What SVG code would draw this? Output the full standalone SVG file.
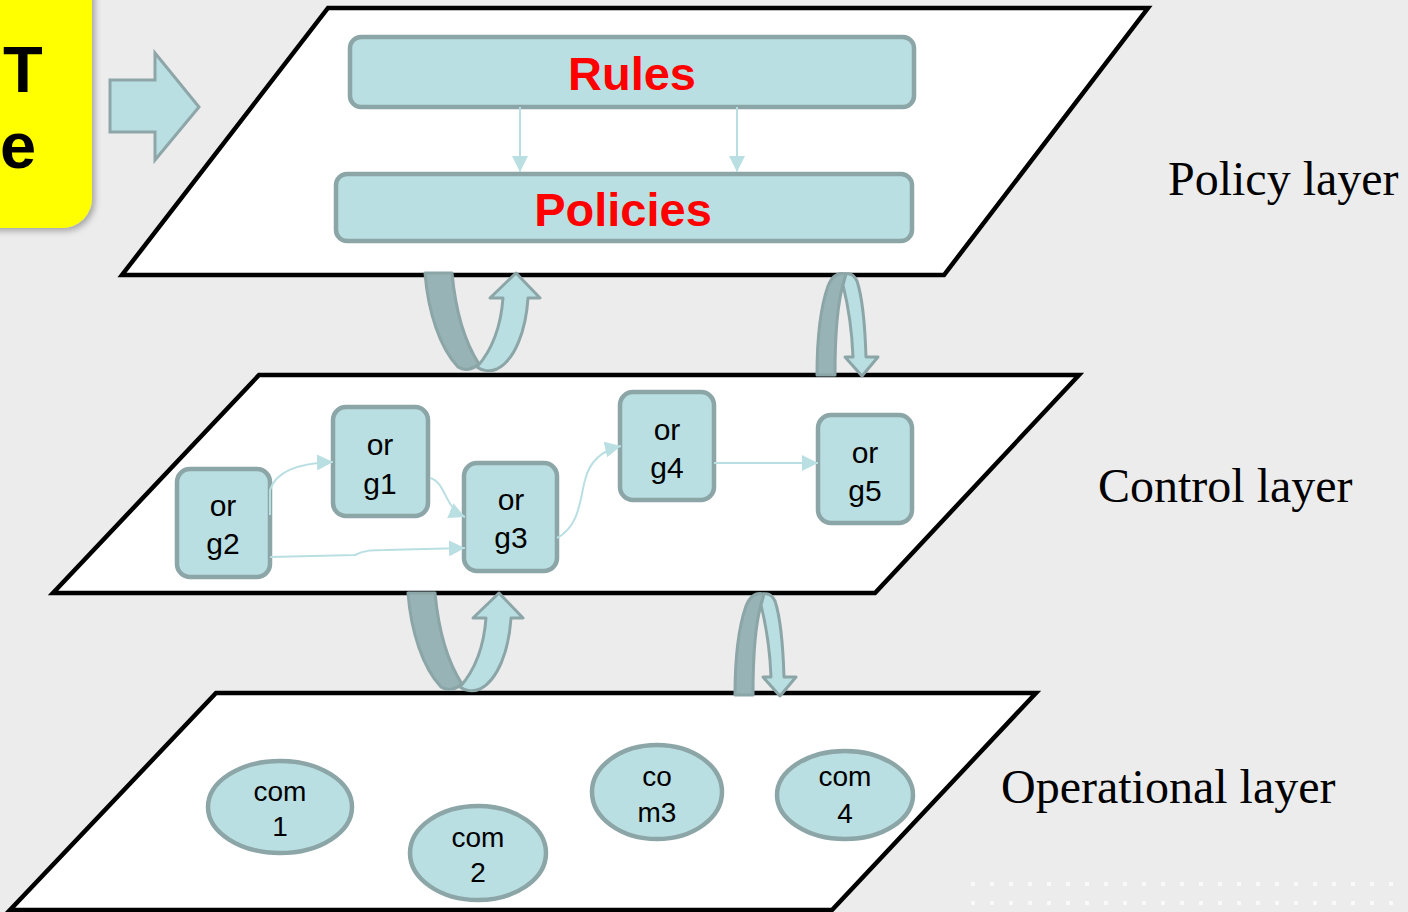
<svg xmlns="http://www.w3.org/2000/svg" width="1408" height="912" viewBox="0 0 1408 912">
<defs>
<style>
.plane{fill:#ffffff;stroke:#000000;stroke-width:4.5;stroke-linejoin:miter}
.box{fill:#b9dfe2;stroke:#8ca5a7;stroke-width:4.5}
.big{font-family:"Liberation Sans",Arial,sans-serif;font-weight:bold;font-size:47px;fill:#ff0000;text-anchor:middle}
.lbl{font-family:"Liberation Sans",Arial,sans-serif;font-size:30px;fill:#000000;text-anchor:middle}
.com{font-family:"Liberation Sans",Arial,sans-serif;font-size:28px;fill:#000000;text-anchor:middle}
.layer{font-family:"Liberation Serif","Times New Roman",serif;font-size:48px;fill:#000000}
.conn{fill:none;stroke:#b9dfe2;stroke-width:2}
.dark{fill:#97b3b5;stroke:#8ca5a7;stroke-width:3;stroke-linejoin:round}
.light{fill:#b9dfe2;stroke:#8ca5a7;stroke-width:3;stroke-linejoin:round}
</style>
<marker id="ah" markerUnits="userSpaceOnUse" markerWidth="16" markerHeight="16" refX="16" refY="8" orient="auto">
<path d="M0,0 L16,8 L0,16 Z" fill="#b9dfe2"/>
</marker>
<pattern id="dots" x="971" y="882" width="19" height="19" patternUnits="userSpaceOnUse">
<rect x="0" y="0" width="4" height="4" fill="#f9f9f9"/>
</pattern>
<filter id="sh" x="-20%" y="-20%" width="150%" height="150%">
<feDropShadow dx="3" dy="3" stdDeviation="3" flood-color="#000" flood-opacity="0.3"/>
</filter>
<g id="uarrow">
<path class="dark" d="M425,273 L452,273 C455,305 462,338 479,364 C472,370 464,371 458,367 C440,348 428,312 425,273 Z"/>
<path class="light" d="M477,367 C492,350 501,325 503,298 L490,298 L516,273 L540,298 L528,298 C526,330 515,360 497,369 C490,372 482,371 477,367 Z"/>
</g>
<g id="narrow">
<path class="dark" d="M817,375 L835,375 C835,330 838,302 843,285 L846,274 C838,272 832,276 828,286 C821,306 817,340 817,375 Z"/>
<path class="light" d="M843,285 C848,305 852,330 853,357 L845,357 L862,376 L878,357 L866,357 C865,325 862,296 857,281 C854,275 850,273 846,274 Z"/>
</g>
</defs>
<rect x="0" y="0" width="1408" height="912" fill="#ececec"/>
<rect x="971" y="882" width="430" height="26" fill="url(#dots)"/>

<g id="title-box">
<rect x="-40" y="-40" width="132" height="268" rx="30" ry="30" fill="#ffff00" filter="url(#sh)"/>
<text x="3" y="92" font-family="'Liberation Sans',Arial,sans-serif" font-weight="bold" font-size="65" fill="#000">T</text>
<text x="0" y="168" font-family="'Liberation Sans',Arial,sans-serif" font-weight="bold" font-size="65" fill="#000">e</text>
</g>
<g id="block-arrow">
<path d="M110,80 L155,80 L155,53 L199,107 L155,160 L155,132 L110,132 Z" fill="#b9dfe2" stroke="#8ea6a8" stroke-width="3"/>
</g>

<g id="policy-layer">
<polygon class="plane" points="328,8 1148,8 944,275 122,275"/>
<text class="layer" x="1168" y="195">Policy layer</text>
</g>
<g id="control-layer">
<polygon class="plane" points="259,375 1079,375 875,593 53,593"/>
<text class="layer" x="1098" y="502">Control layer</text>
</g>
<g id="operational-layer">
<polygon class="plane" points="216,693 1036,693 832,910 10,910"/>
<text class="layer" x="1001" y="803">Operational layer</text>
</g>

<g id="rules">
<rect class="box" x="350" y="37" width="564" height="70" rx="11"/>
<text class="big" x="632" y="90">Rules</text>
</g>
<g id="policies">
<rect class="box" x="336" y="174" width="576" height="67" rx="11"/>
<text class="big" x="623" y="226">Policies</text>
</g>

<g id="org1">
<rect class="box" x="333" y="407" width="95" height="109" rx="13"/>
<text class="lbl" x="380" y="455">or</text><text class="lbl" x="380" y="494">g1</text>
</g>
<g id="org2">
<rect class="box" x="177" y="469" width="93" height="108" rx="13"/>
<text class="lbl" x="223" y="516">or</text><text class="lbl" x="223" y="554">g2</text>
</g>
<g id="org3">
<rect class="box" x="464" y="463" width="93" height="108" rx="13"/>
<text class="lbl" x="511" y="510">or</text><text class="lbl" x="511" y="548">g3</text>
</g>
<g id="org4">
<rect class="box" x="620" y="392" width="94" height="108" rx="13"/>
<text class="lbl" x="667" y="440">or</text><text class="lbl" x="667" y="478">g4</text>
</g>
<g id="org5">
<rect class="box" x="818" y="415" width="94" height="108" rx="13"/>
<text class="lbl" x="865" y="463">or</text><text class="lbl" x="865" y="501">g5</text>
</g>

<g id="com1">
<ellipse class="box" cx="280" cy="807" rx="72" ry="46"/>
<text class="com" x="280" y="801">com</text><text class="com" x="280" y="836">1</text>
</g>
<g id="com2">
<ellipse class="box" cx="478" cy="853" rx="68" ry="47"/>
<text class="com" x="478" y="847">com</text><text class="com" x="478" y="882">2</text>
</g>
<g id="com3">
<ellipse class="box" cx="657" cy="792" rx="65" ry="47"/>
<text class="com" x="657" y="786">co</text><text class="com" x="657" y="822">m3</text>
</g>
<g id="com4">
<ellipse class="box" cx="845" cy="795" rx="68" ry="44"/>
<text class="com" x="845" y="786">com</text><text class="com" x="845" y="823">4</text>
</g>

<g id="connectors">
<line class="conn" x1="520" y1="107" x2="520" y2="172" marker-end="url(#ah)"/>
<line class="conn" x1="737" y1="107" x2="737" y2="172" marker-end="url(#ah)"/>
<path class="conn" d="M270,515 L270,490 C276,470 300,463 333,462" marker-end="url(#ah)"/>
<path class="conn" d="M430,478 C446,482 444,508 465,517" marker-end="url(#ah)"/>
<path class="conn" d="M270,557 L355,555 C365,550 372,550 385,550 L465,548" marker-end="url(#ah)"/>
<path class="conn" d="M557,538 C580,526 580,498 585,480 C590,460 603,450 621,446" marker-end="url(#ah)"/>
<line class="conn" x1="714" y1="463" x2="818" y2="463" marker-end="url(#ah)"/>
<use href="#uarrow"/>
<use href="#narrow"/>
<use href="#uarrow" transform="translate(-17,320)"/>
<use href="#narrow" transform="translate(-82,320)"/>
</g>
</svg>
